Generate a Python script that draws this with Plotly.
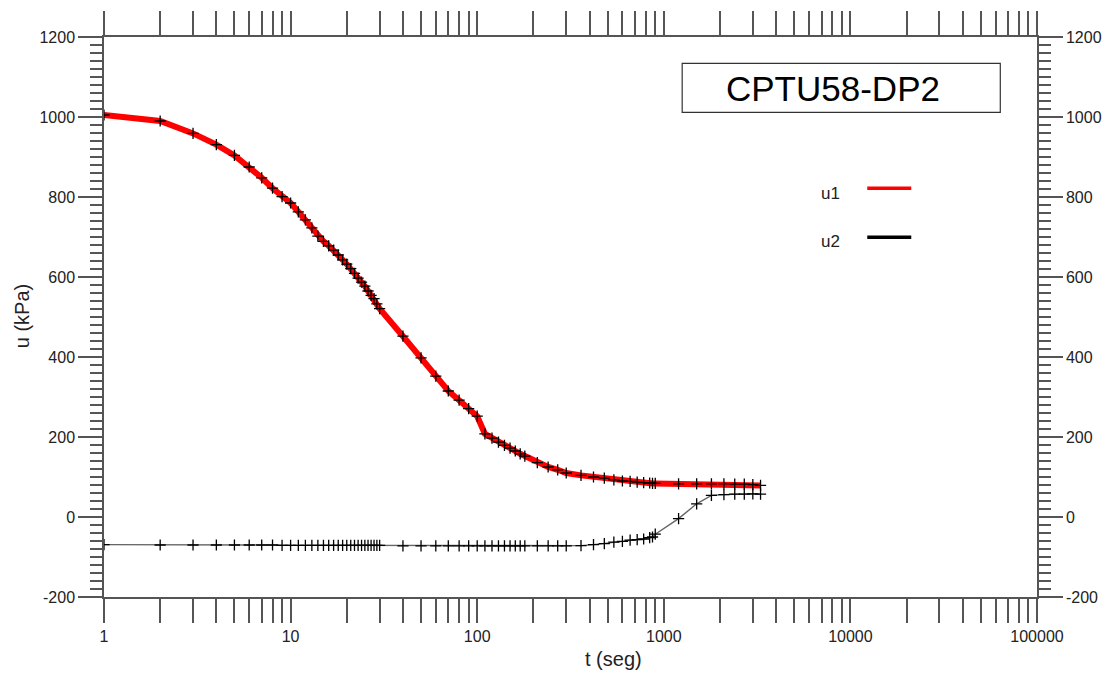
import plotly.graph_objects as go

# ---------------- data ----------------
t = (list(range(1, 31))
     + [40, 50, 60, 70, 80, 90, 100, 110, 120, 130, 140, 150, 160, 170, 180]
     + [210, 240, 270, 300]
     + [360, 420, 480, 540, 600, 660, 720, 780, 840, 870, 900]
     + [1200, 1500, 1800, 2100, 2400, 2700, 3000, 3300])

u1 = ([1005, 990, 959, 931, 904, 875, 848, 822, 801, 785,
       763, 743, 723, 702, 689, 678, 667, 655, 643, 632,
       621, 609, 597, 587, 577, 565, 554, 546, 533, 521]
      + [452, 398, 352, 315, 292, 271, 252, 208, 197, 187, 179, 172, 165, 158, 152]
      + [136, 125, 118, 110]
      + [104, 100, 97, 93, 90, 89, 87, 86, 85, 84, 84]
      + [83, 83, 83, 83, 82, 82, 81, 79])

u2 = ([-69] + [-70] * 7 + [-71] * 22
      + [-72] * 15
      + [-72, -72, -72, -72]
      + [-71.5, -69, -66.5, -63, -61, -58, -56.5, -55, -51.5, -50, -43]
      + [-4, 33, 54, 56, 57, 57, 58, 57])

x_tickvals = [1, 10, 100, 1000, 10000, 100000]
x_ticktext = ["1", "10", "100", "1000", "10000", "100000"]
x_minor = [m * d for d in [1, 10, 100, 1000, 10000] for m in range(2, 10)]
y_tickvals = [-200, 0, 200, 400, 600, 800, 1000, 1200]
y_ticktext = ["-200", "0", "200", "400", "600", "800", "1000", "1200"]

title_text = "CPTU58-DP2"
series_names = ["u1", "u2"]
series_colors = ["#ff0000", "#000000"]

# ---------------- figure ----------------
W, H = 1104, 673
# plot-area edges in page pixels
L, R, T, B = 104, 1036.7, 36.7, 596.7

def px(x):
    return (x - L) / (R - L)

def py(y):
    return (B - y) / (B - T)

AX = "#555555"
FONT = "Liberation Sans, Arial, Helvetica, sans-serif"

fig = go.Figure()
fig.add_trace(go.Scatter(
    x=t, y=u2, mode="lines+markers", name="u2",
    line=dict(color="#666666", width=1.4),
    marker=dict(symbol="cross-thin", size=8, line=dict(color="black", width=1.3)),
    showlegend=False))
fig.add_trace(go.Scatter(
    x=t, y=u1, mode="lines+markers", name="u1",
    line=dict(color="#ff0000", width=6),
    marker=dict(symbol="cross-thin", size=8, line=dict(color="black", width=1.3)),
    showlegend=False))
# empty trace to realise the right-hand axis
fig.add_trace(go.Scatter(x=[None], y=[None], yaxis="y2", showlegend=False, hoverinfo="skip"))

tickfont = dict(family=FONT, size=16, color="#222222")

fig.update_layout(
    width=W, height=H,
    margin=dict(l=L, r=W - R, t=T, b=H - B, pad=0, autoexpand=False),
    paper_bgcolor="white", plot_bgcolor="white",
    showlegend=False,
    font=dict(family=FONT),
    xaxis=dict(
        type="log", range=[0, 5],
        tickmode="array", tickvals=x_tickvals, ticktext=x_ticktext,
        ticks="outside", ticklen=24, tickwidth=1.5, tickcolor=AX,
        minor=dict(tickmode="array", tickvals=x_minor, ticks="outside",
                   ticklen=12, tickwidth=1.5, tickcolor=AX, showgrid=False),
        showline=True, linecolor=AX, linewidth=1.5, mirror="allticks",
        showgrid=False, zeroline=False, tickfont=tickfont,
    ),
    yaxis=dict(
        range=[-200, 1200],
        tickmode="array", tickvals=y_tickvals, ticktext=y_ticktext,
        ticks="outside", ticklen=24, tickwidth=1.5, tickcolor=AX,
        minor=dict(dtick=20, tick0=0, ticks="outside", ticklen=12,
                   tickwidth=1.5, tickcolor=AX, showgrid=False),
        showline=True, linecolor=AX, linewidth=1.5,
        showgrid=False, zeroline=False, tickfont=tickfont,
    ),
    yaxis2=dict(
        overlaying="y", side="right", range=[-200, 1200],
        tickmode="array", tickvals=y_tickvals, ticktext=y_ticktext,
        ticks="outside", ticklen=24, tickwidth=1.5, tickcolor=AX,
        minor=dict(dtick=20, tick0=0, ticks="outside", ticklen=12,
                   tickwidth=1.5, tickcolor=AX, showgrid=False),
        showline=True, linecolor=AX, linewidth=1.5,
        showgrid=False, zeroline=False, tickfont=tickfont,
    ),
)

# axis titles
fig.add_annotation(text="u (kPa)", xref="paper", yref="paper",
                   x=px(22), y=py(316), textangle=-90, showarrow=False,
                   xanchor="center", yanchor="middle",
                   font=dict(family=FONT, size=20, color="#222222"))
fig.add_annotation(text="t (seg)", xref="paper", yref="paper",
                   x=px(613), y=py(659), showarrow=False,
                   xanchor="center", yanchor="middle",
                   font=dict(family=FONT, size=20, color="#222222"))

# title box
fig.add_shape(type="rect", xref="paper", yref="paper",
              x0=px(682), x1=px(1000), y0=py(112), y1=py(63),
              line=dict(color="#333333", width=1.2), fillcolor="rgba(0,0,0,0)")
fig.add_annotation(text=title_text, xref="paper", yref="paper",
                   x=px(833), y=py(88), showarrow=False,
                   xanchor="center", yanchor="middle",
                   font=dict(family=FONT, size=35, color="black"))

# legend (text to the left of the line sample)
leg_y = [193, 241]
line_y = [188, 237]
for name, col, ty, ly in zip(series_names, series_colors, leg_y, line_y):
    fig.add_annotation(text=name, xref="paper", yref="paper",
                       x=px(819), y=py(ty), showarrow=False,
                       xanchor="left", yanchor="middle",
                       font=dict(family=FONT, size=17, color="#222222"))
    fig.add_shape(type="line", xref="paper", yref="paper",
                  x0=px(867), x1=px(911), y0=py(ly), y1=py(ly),
                  line=dict(color=col, width=3.5))

# remove the browser's default 8 px body margin so the figure fills the window
fig.write_html("out.html",
               config={"displayModeBar": False},
               post_script="document.body.style.margin='0';document.body.style.overflow='hidden';")
